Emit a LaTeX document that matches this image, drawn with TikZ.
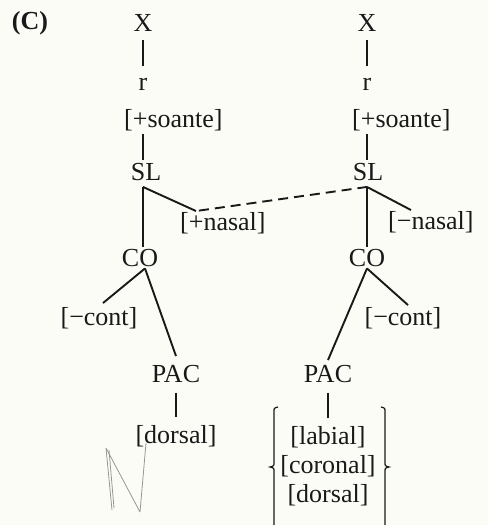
\documentclass[tikz,border=0pt]{standalone}
\usepackage{fontspec}
\setmainfont{Liberation Serif}
\definecolor{bg}{RGB}{252,252,247}
\definecolor{ink}{RGB}{25,25,25}
\definecolor{pencil}{RGB}{150,150,150}
\begin{document}
\begin{tikzpicture}[x=1pt,y=-1pt,
  lbl/.style={inner sep=0pt,text=ink,font=\fontsize{26}{30}\selectfont},
  edge/.style={draw=ink,line width=1.9pt},
  dashedge/.style={draw=ink,line width=1.9pt,dash pattern=on 10pt off 6pt},
  bracepath/.style={draw=ink,line width=1.2pt},
  penmark/.style={draw=pencil,line width=0.8pt,line join=round}]
\useasboundingbox[fill=bg] (0,0) rectangle (488,525);
% left tree
\node[lbl,font=\fontsize{26}{30}\selectfont\bfseries] (C) at (30,23) {(C)};
\node[lbl] (X1) at (143,23) {X};
\node[lbl] (r1) at (143,84) {r};
\node[lbl,anchor=west] (s1) at (124,120) {[+soante]};
\node[lbl] (SL1) at (146,172) {SL};
\node[lbl,anchor=west] (n1) at (180,223) {[+nasal]};
\node[lbl] (CO1) at (140,258) {CO};
\node[lbl] (c1) at (99,318) {[−cont]};
\node[lbl] (P1) at (176,374) {PAC};
\node[lbl] (d1) at (176,436) {[dorsal]};
% right tree
\node[lbl] (X2) at (367,23) {X};
\node[lbl] (r2) at (367,84) {r};
\node[lbl,anchor=west] (s2) at (352,120) {[+soante]};
\node[lbl] (SL2) at (368,172) {SL};
\node[lbl,anchor=west] (n2) at (388,222) {[−nasal]};
\node[lbl] (CO2) at (367,258) {CO};
\node[lbl] (c2) at (403,318) {[−cont]};
\node[lbl] (P2) at (328,374) {PAC};
\node[lbl] (lab) at (328,437) {[labial]};
\node[lbl] (cor) at (328,466) {[coronal]};
\node[lbl] (dor) at (328,495) {[dorsal]};
% junctions
\coordinate (j1) at ([yshift=-6pt]X1 |- SL1.south);
\coordinate (jn1) at ([xshift=16pt,yshift=1pt]n1.north west);
\coordinate (k1) at ([xshift=5pt,yshift=-1.5pt]CO1.south);
\coordinate (j2) at ([yshift=-6pt]X2 |- SL2.south);
\coordinate (jn2) at ([xshift=23pt,yshift=1pt]n2.north west);
\coordinate (k2) at ([yshift=-1.5pt]CO2.south);
% left edges
\draw[edge] ([yshift=-8pt]X1.south) -- ([yshift=12pt]r1.north);
\draw[edge] ([yshift=-3pt]X1 |- s1.south) -- ([yshift=3pt]X1 |- SL1.north);
\draw[edge] (j1) -- ([yshift=2pt]X1 |- CO1.north);
\draw[edge] (j1) -- (jn1);
\draw[edge] (k1) -- ([xshift=4pt,yshift=4pt]c1.north);
\draw[edge] (k1) -- ([yshift=9pt]P1.north);
\draw[edge] ([yshift=-10pt]P1.south) -- ([yshift=8pt]d1.north);
% right edges
\draw[edge] ([yshift=-8pt]X2.south) -- ([yshift=12pt]r2.north);
\draw[edge] ([yshift=-3pt]X2 |- s2.south) -- ([yshift=3pt]X2 |- SL2.north);
\draw[edge] (j2) -- ([yshift=2pt]X2 |- CO2.north);
\draw[edge] (j2) -- (jn2);
\draw[edge] (k2) -- ([xshift=5pt,yshift=2pt]c2.north);
\draw[edge] (k2) -- ([yshift=5pt]P2.north);
\draw[edge] ([yshift=-10pt]P2.south) -- ([yshift=8pt]lab.north);
% dashed association line
\draw[dashedge,dash phase=-3pt] (jn1) -- (j2);
% braces
\draw[bracepath] (278,407) .. controls (274,408) .. (274,412) -- (274,462)
  .. controls (274,466) .. (270,467) .. controls (274,468) .. (274,472) -- (274,525);
\draw[bracepath] (381,407) .. controls (385,408) .. (385,412) -- (385,462)
  .. controls (385,466) .. (389,467) .. controls (385,468) .. (385,472) -- (385,525);
% pencil mark
\draw[penmark] (112,510) -- (106,448) -- (140,512) -- (146,443);
\draw[penmark] (109,450) -- (114,508);
\end{tikzpicture}
\end{document}
